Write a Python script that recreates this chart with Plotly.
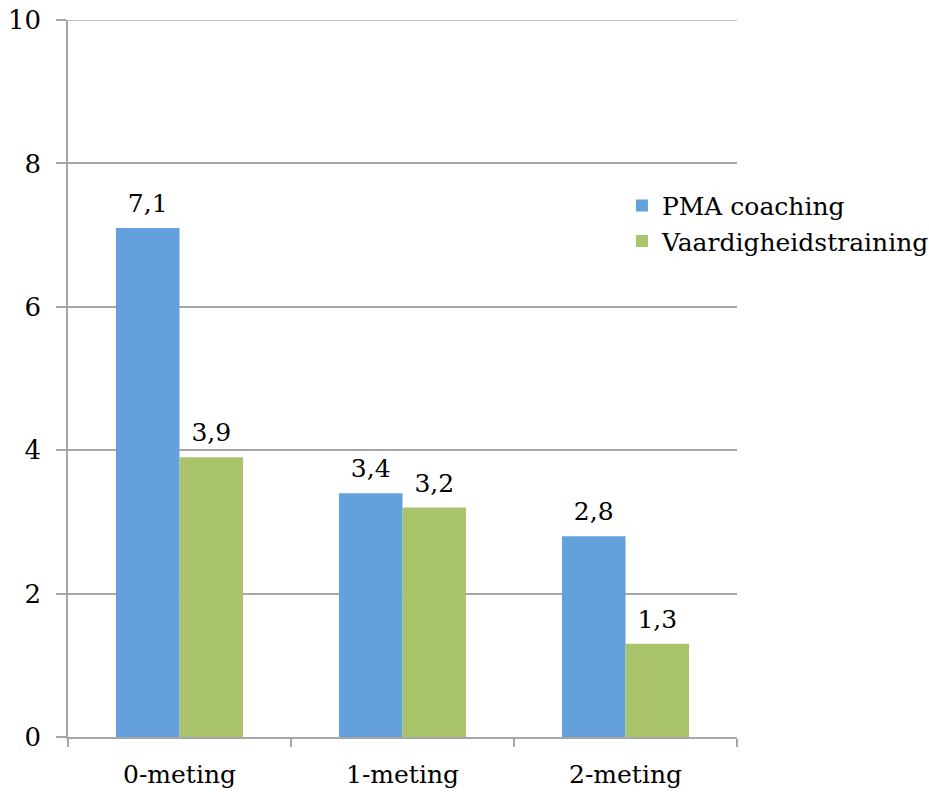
import plotly.graph_objects as go

categories = ["0-meting", "1-meting", "2-meting"]
pma = [7.1, 3.4, 2.8]
vaardig = [3.9, 3.2, 1.3]
series_names = ["PMA coaching", "Vaardigheidstraining"]
colors = ["#64a0dc", "#a9c46b"]
ytick_vals = [0, 2, 4, 6, 8, 10]

FONT = "DejaVu Serif"
GRID = "#a6a6a6"
fig = go.Figure()
for i, (name, vals, col) in enumerate(zip(series_names, [pma, vaardig], colors)):
    fig.add_trace(go.Bar(
        x=categories, y=vals, name=name, marker_color=col,
        marker_line_width=0, offsetgroup=str(i), alignmentgroup="a",
    ))
for i, (name, vals) in enumerate(zip(series_names, [pma, vaardig])):
    fig.add_trace(go.Scatter(
        x=categories, y=vals, mode="markers+text", showlegend=False,
        offsetgroup=str(i), alignmentgroup="a",
        marker=dict(size=14, opacity=0),
        texttemplate="%{y:.1f}", textposition="top center",
        textfont=dict(family=FONT, size=25, color="black"),
        cliponaxis=False, hoverinfo="skip",
    ))

# top gridline (plotly drops gridlines at the range edge)
fig.add_hline(y=max(ytick_vals), line_color=GRID, line_width=1.5, layer="below")

fig.update_layout(
    width=929, height=794,
    margin=dict(l=68, r=192, t=20, b=57, autoexpand=False),
    paper_bgcolor="white", plot_bgcolor="white",
    barmode="group", bargap=0.43, bargroupgap=0,
    scattermode="group", scattergap=0.43,
    separators=",.",
    font=dict(family=FONT, size=25, color="black"),
    showlegend=True,
    legend=dict(x=0.828, y=0.773, xanchor="left", yanchor="top",
                font=dict(family=FONT, size=25, color="black"),
                bgcolor="rgba(0,0,0,0)", itemsizing="constant",
                tracegroupgap=0, borderwidth=0),
    xaxis=dict(
        automargin=False,
        showline=True, linecolor=GRID, linewidth=1.5,
        ticks="outside", ticklen=8, tickcolor=GRID, tickwidth=1.5,
        tickson="boundaries", showgrid=False,
        ticklabelstandoff=14,
        tickfont=dict(family=FONT, size=25),
    ),
    yaxis=dict(
        automargin=False,
        range=[0, 10], tickvals=ytick_vals,
        showline=True, linecolor=GRID, linewidth=1.5,
        ticks="outside", ticklen=10, tickcolor=GRID, tickwidth=1.5,
        showgrid=True, gridcolor=GRID, gridwidth=1.5,
        zeroline=False, ticklabelstandoff=10,
        tickfont=dict(family=FONT, size=26),
    ),
)

fig.write_html("out.html", config={"displayModeBar": False},
               post_script="document.body.style.margin='0';")
